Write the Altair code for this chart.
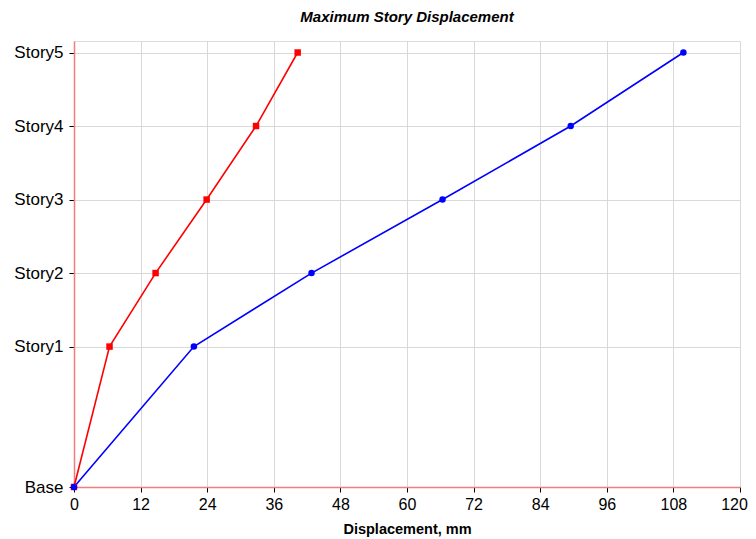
import altair as alt
import pandas as pd

stories = ["Base", "Story1", "Story2", "Story3", "Story4", "Story5"]
elevations = [0, 5.73, 8.73, 11.73, 14.73, 17.73]
disp_red = [0, 6.4, 14.7, 23.9, 32.8, 40.3]
disp_blue = [0, 21.6, 42.8, 66.4, 89.5, 109.8]
x_ticks = [0, 12, 24, 36, 48, 60, 72, 84, 96, 108, 120]

rows = []
for s, e, r, b in zip(stories, elevations, disp_red, disp_blue):
    rows.append({"story": s, "elev": e, "disp": r, "series": "red"})
    rows.append({"story": s, "elev": e, "disp": b, "series": "blue"})
df = pd.DataFrame(rows)

label_expr = " : ".join(
    [f"abs(datum.value - {e}) < 0.01 ? '{s}'" for s, e in zip(stories, elevations)]
) + " : ''"

axis_red = "#f47c7c"

x = alt.X("disp:Q", scale=alt.Scale(domain=[0, 120], nice=False),
          axis=alt.Axis(values=x_ticks, title="Displacement, mm", titleFont="Liberation Sans",
                        titleFontSize=14.5, titleFontWeight="bold", titleColor="black",
                        titlePadding=10, labelFont="Liberation Sans", labelFontSize=16,
                        labelColor="black", labelPadding=4, domainColor=axis_red, domainWidth=1.5,
                        tickColor="black", tickSize=5, gridColor="#d9d9d9", labelFlush=False,
                        labelOffset={"condition": {"test": "datum.value == 120", "value": -6}, "value": 0}))
y = alt.Y("elev:Q", scale=alt.Scale(domain=[0, 18.2], nice=False, zero=True),
          axis=alt.Axis(values=elevations, labelExpr=label_expr, title=None,
                        labelFont="Liberation Sans", labelFontSize=17, labelColor="black",
                        labelPadding=6, domainColor=axis_red, domainWidth=1.5,
                        tickColor="black", tickSize=5, gridColor="#d9d9d9"))

color = alt.Color("series:N", scale=alt.Scale(domain=["red", "blue"], range=["#ff0000", "#0000ff"]), legend=None)

base = alt.Chart(df).encode(x=x, y=y, color=color, detail="series:N", order="elev:Q")

lines = base.mark_line(strokeWidth=1.6)
red_pts = base.transform_filter("datum.series == 'red'").mark_point(shape="square", filled=True, size=42, opacity=1)
blue_pts = base.transform_filter("datum.series == 'blue'").mark_point(shape="circle", filled=True, size=42, opacity=1)

chart = alt.layer(lines, red_pts, blue_pts).properties(
    width=666, height=446,
    title=alt.TitleParams("Maximum Story Displacement", font="Liberation Sans", fontSize=15,
                          fontWeight="bold", fontStyle="italic", color="black", anchor="middle", offset=16),
    autosize=alt.AutoSizeParams(type="none"),
    padding={"left": 66, "top": 33, "right": 8, "bottom": 50},
).configure_view(stroke=None).configure(background="white")

chart.save("out.html", embed_options={"renderer": "svg", "actions": False})
